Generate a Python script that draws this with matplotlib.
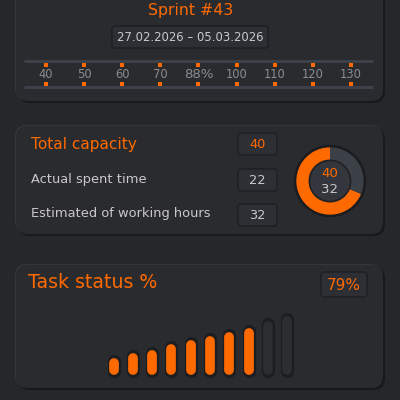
import matplotlib
matplotlib.use("Agg")
import matplotlib.pyplot as plt
from matplotlib.patches import FancyBboxPatch
import numpy as np

# ---- data ----
sprint_title = "Sprint #43"
date_range = "27.02.2026 – 05.03.2026"
scale_labels = ["40", "50", "60", "70", "88%", "100", "110", "120", "130"]
highlight_label = "88%"
capacity_labels = ["Total capacity", "Actual spent time", "Estimated of working hours"]
capacity_values = [40, 22, 32]
donut_top = 40
donut_bottom = 32
donut_filled = 22
task_title = "Task status %"
task_pct = "79%"
task_bars = [12, 17, 20, 26, 30, 34, 38, 42, 49, 54]
task_done = [True] * 8 + [False] * 2

BG = "#26272b"
PANEL = "#2a2b2f"
ORANGE = "#ff6a00"
TEXT = "#c9c9cb"
MUTED = "#8a8c91"
BOX = "#2d2f34"
FONT = "DejaVu Sans"

fig = plt.figure(figsize=(4, 4), dpi=100, facecolor=BG)
ax = fig.add_axes([0, 0, 1, 1])
ax.set_xlim(0, 400)
ax.set_ylim(400, 0)
ax.axis("off")
ax.set_facecolor(BG)


def panel(x0, y0, x1, y1, r=12):
    ax.add_patch(FancyBboxPatch((x0 + 2, y0 + 2), x1 - x0, y1 - y0,
                                boxstyle=f"round,pad=0,rounding_size={r}",
                                fc="#18191c", ec="none", zorder=1))
    ax.add_patch(FancyBboxPatch((x0 - 1, y0 - 1), x1 - x0, y1 - y0,
                                boxstyle=f"round,pad=0,rounding_size={r}",
                                fc="#34363b", ec="none", zorder=1))
    ax.add_patch(FancyBboxPatch((x0, y0), x1 - x0, y1 - y0,
                                boxstyle=f"round,pad=0,rounding_size={r}",
                                fc=PANEL, ec="none", zorder=2))


def box(x0, y0, x1, y1, r=3):
    ax.add_patch(FancyBboxPatch((x0, y0), x1 - x0, y1 - y0,
                                boxstyle=f"round,pad=0,rounding_size={r}",
                                fc=BOX, ec="#1d1e21", lw=1.0, zorder=3))


panel(16, -15, 383, 101)
panel(16, 126, 383, 234)
panel(16, 265, 383, 388)

# ---- top panel ----
ax.text(191, 11, sprint_title, color=ORANGE, fontsize=11.3, ha="center", va="center",
        family=FONT, zorder=5)
box(112, 26, 268, 48)
ax.text(190, 37.5, date_range, color=TEXT, fontsize=8.4, ha="center", va="center",
        family=FONT, zorder=5)

ax.plot([24, 373], [61, 61], color="#3b4049", lw=2.2, zorder=3, solid_capstyle="butt")
ax.plot([24, 373], [87, 87], color="#3b4049", lw=2.2, zorder=3, solid_capstyle="butt")
xs = 46 + 38.1 * np.arange(len(scale_labels))
ax.scatter(xs, [65] * len(xs), marker="s", s=10, color=ORANGE, zorder=5, linewidths=0)
ax.scatter(xs, [84] * len(xs), marker="s", s=10, color=ORANGE, zorder=5, linewidths=0)
for x, lab in zip(xs, scale_labels):
    big = lab == highlight_label
    ax.text(x, 75, lab, color=MUTED, fontsize=9.6 if big else 8.3, ha="center",
            va="center", family=FONT, zorder=5)

# ---- capacity panel ----
label_y = [144, 180, 214]
box_y = [(133, 155), (169, 191), (204, 226)]
for i, (lab, val) in enumerate(zip(capacity_labels, capacity_values)):
    first = i == 0
    ax.text(31, label_y[i], lab, color=ORANGE if first else TEXT,
            fontsize=11.1 if first else 9.4, ha="left", va="center", family=FONT, zorder=5)
    box(238, box_y[i][0], 277, box_y[i][1])
    ax.text(257.5, (box_y[i][0] + box_y[i][1]) / 2 + 0.5, str(val),
            color=ORANGE if first else TEXT, fontsize=9.3, ha="center", va="center",
            family=FONT, zorder=5)

# donut
dax = fig.add_axes([(330 - 38) / 400, 1 - (181 + 38) / 400, 76 / 400, 76 / 400])
dax.set_aspect("equal")
dax.axis("off")
dax.pie([1], radius=1.0, colors=["#1b1c1f"], startangle=90)
dax.pie([donut_filled, donut_bottom - donut_filled], radius=0.93,
        colors=[ORANGE, "#3c4047"], startangle=90, counterclock=True,
        wedgeprops=dict(width=0.36, edgecolor="none"))
dax.pie([1], radius=0.57, colors=["#33363c"], startangle=90,
        wedgeprops=dict(edgecolor="#202125", linewidth=1.2))
dax.text(0, 0.2, str(donut_top), color=ORANGE, fontsize=9.6, ha="center", va="center",
         family=FONT)
dax.text(0, -0.23, str(donut_bottom), color=TEXT, fontsize=9.6, ha="center", va="center",
         family=FONT)
dax.set_xlim(-1.05, 1.05)
dax.set_ylim(-1.05, 1.05)

# ---- task panel ----
ax.text(28, 283, task_title, color=ORANGE, fontsize=13.6, ha="left", va="center",
        family=FONT, zorder=5)
box(321, 272, 367, 297)
ax.text(344, 285, task_pct, color=ORANGE, fontsize=11, ha="center", va="center",
        family=FONT, zorder=5)

bx = 113.5 + 19.3 * np.arange(len(task_bars))
base = 372
for x, h, done in zip(bx, task_bars, task_done):
    top = base - h
    ax.plot([x, x], [base - 1, top + 1], color="#1c1d20", lw=9.5,
            solid_capstyle="round", zorder=3)
    ax.plot([x, x], [base - 2.5, top + 3], color=ORANGE if done else "#2b2d31", lw=7,
            solid_capstyle="round", zorder=4)

fig.savefig("out.png", dpi=100, facecolor=BG)
